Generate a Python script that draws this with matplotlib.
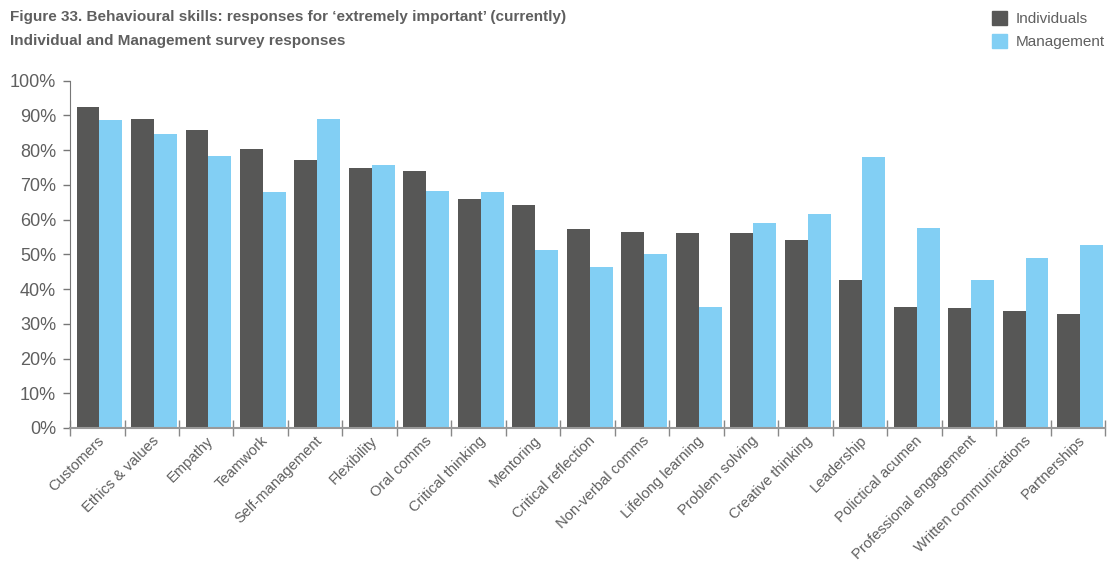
import numpy as np
import matplotlib
matplotlib.use("Agg")
import matplotlib.pyplot as plt
from matplotlib.patches import Patch

skills = ["Customers", "Ethics & values", "Empathy", "Teamwork", "Self-management",
          "Flexibility", "Oral comms", "Critical thinking", "Mentoring",
          "Critical reflection", "Non-verbal comms", "Lifelong learning",
          "Problem solving", "Creative thinking", "Leadership", "Polictical acumen",
          "Professional engagement", "Written communications", "Partnerships"]
individuals = [92.4, 89.0, 85.8, 80.4, 77.2, 74.9, 74.0, 66.0, 64.3, 57.3,
               56.5, 56.2, 56.2, 54.2, 42.7, 34.9, 34.6, 33.8, 32.9]
management = [88.7, 84.7, 78.3, 68.0, 89.0, 75.8, 68.3, 68.0, 51.3, 46.4,
              50.1, 34.9, 59.1, 61.6, 78.0, 57.6, 42.7, 49.0, 52.6]
yticks = list(range(0, 101, 10))

DARK = "#575756"
LIGHT = "#82cff4"
GREY = "#5f5f5f"
plt.rcParams["font.family"] = ["Liberation Sans", "DejaVu Sans"]

fig = plt.figure(figsize=(11.19, 5.63), dpi=100)
ax = fig.add_axes([0.0626, 0.2398, 0.925, 0.6169])

x = np.arange(len(skills))
w = 0.42
ax.bar(x - w / 2 + 0.04, individuals, w, color=DARK, label="Individuals")
ax.bar(x + w / 2 + 0.04, management, w, color=LIGHT, label="Management")

ax.set_xlim(-0.5, len(skills) - 0.5)
ax.set_ylim(0, 100)
ax.set_yticks(yticks)
ax.set_yticklabels([f"{v}%" for v in yticks], fontsize=13, color=GREY)
ax.tick_params(axis="y", length=5, width=1, color="#777777", pad=5)

# labels at centres, tick marks at group boundaries
ax.set_xticks(x)
ax.set_xticklabels(skills, rotation=45, ha="right", rotation_mode="anchor",
                   fontsize=10.6, color=GREY)
ax.tick_params(axis="x", which="major", length=0, pad=4)
ax.set_xticks(np.arange(-0.5, len(skills)), minor=True)
ax.tick_params(axis="x", which="minor", length=11, width=1, color="#888888",
               direction="inout")

for s in ["top", "right"]:
    ax.spines[s].set_visible(False)
ax.spines["left"].set_color("#777777")
ax.spines["bottom"].set_color("#999999")
ax.spines["bottom"].set_linewidth(1.5)

fig.text(0.009, 0.97, "Figure 33. Behavioural skills: responses for \u2018extremely important\u2019 (currently)",
         fontsize=11, fontweight="bold", color=GREY, va="center")
fig.text(0.009, 0.927, "Individual and Management survey responses",
         fontsize=11, fontweight="bold", color=GREY, va="center")

handles = [Patch(color=DARK, label="Individuals"), Patch(color=LIGHT, label="Management")]
fig.legend(handles=handles, loc="upper right", bbox_to_anchor=(1.0, 1.005), frameon=False,
           fontsize=11, labelcolor=GREY, handlelength=1.0, handleheight=1.0,
           handletextpad=0.6, labelspacing=0.55)

fig.savefig("out.png", dpi=100)
